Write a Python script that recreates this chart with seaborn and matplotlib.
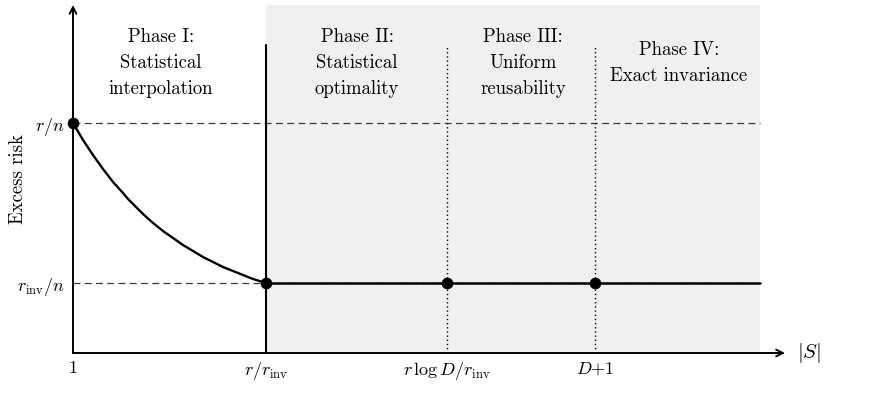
import matplotlib
matplotlib.use("Agg")
import matplotlib.pyplot as plt
import numpy as np
import pandas as pd
import seaborn as sns

# phase boundaries along |S| (arbitrary units)
x_one = 0.0
x_r_rinv = 19.3
x_rlogd = 37.4
x_d1 = 52.2
x_end = 68.7
x_arrow = 71.2

# risk levels
y_rn = 23.0
y_rinv = 7.0
y_top = 34.8
y_wall = 30.8

# phase I decay curve
curve_x = [0, 0.5, 1, 1.5, 2, 2.5, 3, 3.5, 4, 4.5, 5, 5.5, 6, 6.5, 7, 7.5, 8,
           9, 10, 11, 12, 13, 14, 15, 16, 17, 18, 19.3]
curve_y = [23.0, 22.15, 21.3, 20.55, 19.8, 19.1, 18.4, 17.75, 17.1, 16.55, 16.0,
           15.4, 14.9, 14.4, 13.9, 13.45, 13.0,
           12.2, 11.5, 10.8, 10.2, 9.6, 9.1, 8.6, 8.2, 7.8, 7.4, 7.0]

dots_x = [x_one, x_r_rinv, x_rlogd, x_d1]
dots_y = [y_rn, y_rinv, y_rinv, y_rinv]

xtick_pos = [x_one, x_r_rinv, x_rlogd, x_d1]
xtick_labels = [r"$1$", r"$r/r_{\rm inv}$", r"$r\,\log D/r_{\rm inv}$", r"$D{+}1$"]
ytick_pos = [y_rinv, y_rn]
ytick_labels = [r"$r_{\rm inv}/n$", r"$r/n$"]

phase_x = [8.8, 28.4, 45.0, 60.6]
phase_text = ["Phase I:\nStatistical\ninterpolation",
              "Phase II:\nStatistical\noptimality",
              "Phase III:\nUniform\nreusability",
              "Phase IV:\nExact invariance"]

sns.set_theme(style="white")
plt.rcParams["font.family"] = ["cmr10", "DejaVu Serif"]
plt.rcParams["mathtext.fontset"] = "cm"
plt.rcParams["axes.formatter.use_mathtext"] = True
plt.rcParams["text.color"] = "black"
plt.rcParams["xtick.color"] = "black"
plt.rcParams["ytick.color"] = "black"
plt.rcParams["axes.labelcolor"] = "black"

fig = plt.figure(figsize=(8.74, 4.16), dpi=100)
ax = fig.add_axes([73 / 874, 63 / 416, 712 / 874, 348 / 416])
ax.set_xlim(0, x_arrow)
ax.set_ylim(0, y_top)

# shaded region for phases II-IV
ax.axvspan(x_r_rinv, x_end, ymin=0, ymax=1, color="#f0f0f0", lw=0, zorder=0)

# dashed reference levels
for yv in ytick_pos:
    ax.plot([0, x_end], [yv, yv], ls=(0, (5.5, 3.5)), color="#3a3a3a", lw=0.9, zorder=1)

# phase boundaries
ax.plot([x_r_rinv, x_r_rinv], [0, y_wall], color="black", lw=1.5, zorder=2)
for xv in [x_rlogd, x_d1]:
    ax.plot([xv, xv], [0, y_wall], ls=(0, (1, 2)), color="black", lw=1.0, zorder=2)

# curve and flat part
df_curve = pd.DataFrame({"x": curve_x, "y": curve_y})
sns.lineplot(data=df_curve, x="x", y="y", color="black", lw=1.7, ax=ax, zorder=3,
             estimator=None, sort=False)
df_flat = pd.DataFrame({"x": [x_r_rinv, x_end], "y": [y_rinv, y_rinv]})
sns.lineplot(data=df_flat, x="x", y="y", color="black", lw=1.8, ax=ax, zorder=3,
             estimator=None, sort=False)
df_dots = pd.DataFrame({"x": dots_x, "y": dots_y})
sns.scatterplot(data=df_dots, x="x", y="y", color="black", s=60, edgecolor="black",
                ax=ax, zorder=4, clip_on=False)

# axes with arrows
for s in ax.spines.values():
    s.set_visible(False)
ax.annotate("", xy=(x_arrow, 0), xytext=(0, 0),
            arrowprops=dict(arrowstyle="->", lw=1.4, color="black", shrinkA=0, shrinkB=0),
            annotation_clip=False, zorder=5)
ax.annotate("", xy=(0, y_top), xytext=(0, 0),
            arrowprops=dict(arrowstyle="->", lw=1.4, color="black", shrinkA=0, shrinkB=0),
            annotation_clip=False, zorder=5)

ax.set_xticks(xtick_pos)
ax.set_xticklabels(xtick_labels, fontsize=13)
ax.set_yticks(ytick_pos)
ax.set_yticklabels(ytick_labels, fontsize=13)
ax.tick_params(axis="x", length=0, pad=5)
ax.tick_params(axis="y", length=0, pad=6)
ax.set_xlabel("")
ax.set_ylabel("Excess risk", fontsize=13.5)
ax.yaxis.set_label_coords(-46 / 712, 0.5)

ax.text(x_arrow + 1.2, 0, r"$|S|$", fontsize=15, ha="left", va="center", clip_on=False)

for px, txt in zip(phase_x, phase_text):
    ax.text(px, 29.0, txt, ha="center", va="center", fontsize=13.5, linespacing=1.6)

fig.savefig("out.png", dpi=100)
